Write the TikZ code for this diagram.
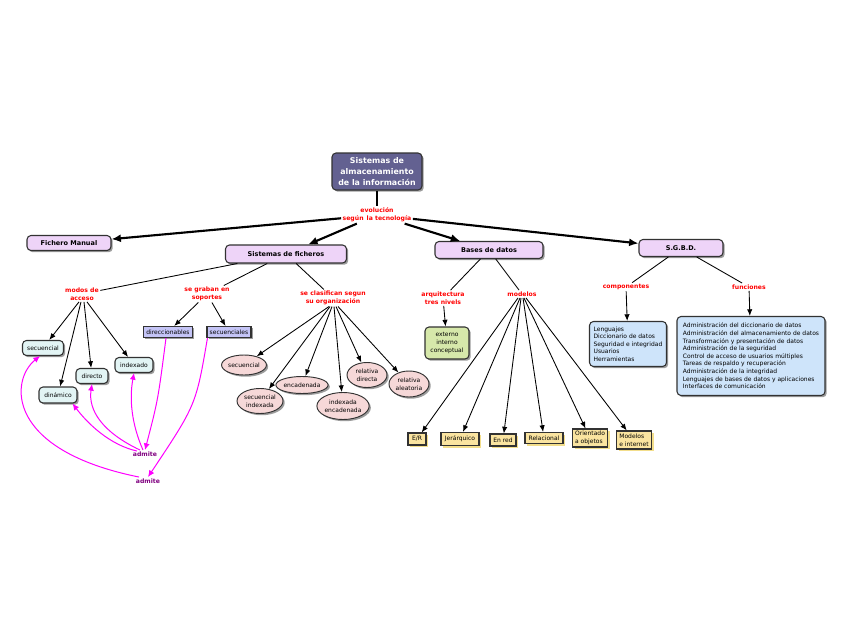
\documentclass[tikz,border=0pt]{standalone}
\usepackage{fontspec}
\setmainfont{DejaVu Sans}
\usetikzlibrary{shapes.geometric,arrows.meta,shadows,calc}
\definecolor{titlefill}{RGB}{99,97,145}
\definecolor{lav}{RGB}{238,212,248}
\definecolor{cyanl}{RGB}{226,244,244}
\definecolor{lavblue}{RGB}{196,196,246}
\definecolor{pinkl}{RGB}{246,216,216}
\definecolor{greenl}{RGB}{214,232,170}
\definecolor{yel}{RGB}{250,228,160}
\definecolor{yelsh}{RGB}{240,214,110}
\definecolor{bluel}{RGB}{206,228,250}
\definecolor{purp}{RGB}{128,0,128}
\definecolor{magc}{RGB}{255,0,255}
\definecolor{bord}{RGB}{50,50,50}
\tikzset{
  wh/.style 2 args={minimum width=#1*0.75pt, minimum height=#2*0.75pt},
  shad/.style={drop shadow={shadow xshift=1.3pt, shadow yshift=-1.3pt, fill=black!70, opacity=0.55}},
  box/.style={draw=bord, line width=0.8pt, rounded corners=3pt, shad, inner sep=1pt, align=center},
  topbox/.style={box, fill=lav, font=\bfseries\fontsize{4.9}{5.9}\selectfont},
  titlebox/.style={box, fill=titlefill, text=white, font=\bfseries\fontsize{5.9}{8.4}\selectfont},
  rl/.style={text=red, font=\bfseries\fontsize{4.6}{5.9}\selectfont, align=center, inner sep=1pt},
  acc/.style={box, fill=cyanl},
  rectbox/.style={draw=bord, line width=0.8pt, fill=lavblue, shad, inner sep=1pt},
  ell/.style={ellipse, draw=bord, line width=0.7pt, fill=pinkl, shad, inner sep=0pt, align=center},
  modbox/.style={draw=bord, line width=0.8pt, fill=yel, inner sep=1pt, align=left,
     drop shadow={shadow xshift=1.5pt, shadow yshift=-1.5pt, fill=yelsh, opacity=0.8}},
  info/.style={box, fill=bluel, align=left},
  adm/.style={text=purp, font=\bfseries\fontsize{4.6}{5.9}\selectfont, inner sep=1pt},
  big/.style={-{Latex[length=7pt,width=6pt]}, line width=1.6pt},
  arr/.style={-{Latex[length=5pt,width=4pt]}, line width=0.65pt},
  link/.style={line width=0.65pt},
  mag/.style={draw=magc, -{Latex[length=5pt,width=4.5pt]}, line width=0.75pt}
}
\begin{document}
\begin{tikzpicture}[x=0.75pt,y=-0.75pt, font=\fontsize{4.5}{5.7}\selectfont]
\path[fill=white, use as bounding box] (0,0) rectangle (848,638);

% top level
\node[titlebox, wh={90}{37}] (title) at (377,171.5) {Sistemas de\\almacenamiento\\de la información};
\node[rl] (evo) at (377,215) {evolución\\según\enspace la tecnología};
\node[topbox, wh={84}{15}] (fm) at (69,243) {Fichero Manual};
\node[topbox, wh={121}{18}] (sf) at (286,254) {Sistemas de ficheros};
\node[topbox, wh={108}{17}] (bd) at (489,250) {Bases de datos};
\node[topbox, wh={84}{17}] (sgbd) at (681,248) {S.G.B.D.};

\draw[line width=1.6pt] (title) -- (evo);
\draw[big] (evo) -- (fm);
\draw[big] (evo) -- (sf);
\draw[big] (evo) -- (bd);
\draw[big] (evo) -- (sgbd);

% second level labels
\node[rl] (modos) at (82,294) {modos de\\acceso};
\node[rl] (graban) at (207,294) {se graban en\\soportes};
\node[rl] (clas) at (333,298) {se clasifican segun\\su organización};
\node[rl] (arq) at (443,298) {arquitectura\\tres nivels};
\node[rl] (modelos) at (522,294) {modelos};
\node[rl] (comp) at (626,287) {componentes};
\node[rl] (func) at (749,287) {funciones};

\draw[link] (sf) -- (modos);
\draw[link] (sf) -- (graban);
\draw[link] (sf) -- (clas);
\draw[link] (bd) -- (arq);
\draw[link] (bd) -- (modelos);
\draw[link] (sgbd) -- (comp);
\draw[link] (sgbd) -- (func);

% modos de acceso
\node[acc, wh={41}{15}] (sec1) at (43,348) {secuencial};
\node[acc, wh={38}{16}] (din) at (58,395) {dinámico};
\node[acc, wh={32}{15}] (dir) at (92,376) {directo};
\node[acc, wh={38}{15}] (idx) at (134,365) {indexado};
\draw[arr] ($(modos.south)+(-3,0)$) -- (sec1);
\draw[arr] ($(modos.south)+(-1,0)$) -- (din);
\draw[arr] ($(modos.south)+(2,0)$) -- (dir);
\draw[arr] ($(modos.south)+(5,0)$) -- (idx);

% soportes
\node[rectbox, wh={49}{11}] (dirc) at (168,332) {direccionables};
\node[rectbox, wh={44}{11}] (secs) at (229,332) {secuenciales};
\draw[arr] (graban) -- (dirc);
\draw[arr] (graban) -- (secs);

\node[adm] (adm1) at (145,454) {admite};
\node[adm] (adm2) at (148,481) {admite};
\draw[mag] ($(dirc.south)+(-2,0)$) .. controls (158,400) .. (adm1.north);
\draw[mag] ($(secs.south west)+(1,0)$) .. controls (196,405) .. (adm2.north);
\draw[mag] ($(adm1.north)+(-2,0)$) .. controls (132,425) and (129,400) .. (idx.south);
\draw[mag] ($(adm1.north)+(-5,0)$) .. controls (102,432) and (88,410) .. (dir.south);
\draw[mag] ($(adm1.north)+(-8,1)$) .. controls (110,445) and (88,424) .. ($(din.south east)+(-5,0)$);
\draw[mag] ($(adm2.north)+(-9,0)$) .. controls (5,450) and (10,380) .. ($(sec1.south)+(-3,0)$);

% organizacion
\node[ell, wh={43}{20}] (e1) at (244,365) {secuencial};
\node[ell, wh={46}{25}] (e2) at (260,401) {secuencial\\indexada};
\node[ell, wh={50}{17}] (e3) at (302,385) {encadenada};
\node[ell, wh={46}{27}] (e4) at (343,406) {indexada\\encadenada};
\node[ell, wh={40}{25}] (e5) at (367,375) {relativa\\directa};
\node[ell, wh={40}{26}] (e6) at (409,384) {relativa\\aleatoria};
\foreach \e/\s in {e1/-4,e2/-3,e3/-1,e4/1,e5/3,e6/5}
  \draw[arr] ($(clas.south)+(\s,0)$) -- (\e);

% bases de datos
\node[box, fill=greenl, wh={44}{32}] (ext) at (447,343) {externo\\interno\\conceptual};
\draw[arr] (arq) -- (ext);
\node[modbox, wh={18}{12}] (m1) at (417,439) {E/R};
\node[modbox, wh={38}{13}] (m2) at (460,439) {Jerárquico};
\node[modbox, wh={26}{12}] (m3) at (503,440) {En red};
\node[modbox, wh={38}{11}] (m4) at (544,438) {Relacional};
\node[modbox, wh={35}{18}] (m5) at (590,438) {Orientado\\a objetos};
\node[modbox, wh={35}{18}] (m6) at (634,440) {Modelos\\e internet};
\foreach \m/\s in {m1/-4,m2/-2,m3/-1,m4/1,m5/2,m6/4}
  \draw[arr] ($(modelos.south)+(\s,0)$) -- (\m);

% SGBD
\node[info, wh={77}{45}] (compbox) at (628,344) {Lenguajes\\Diccionario de datos\\Seguridad e integridad\\Usuarios\\Herramientas};
\node[info, wh={148}{79}] (funcbox) at (751,356) {Administración del diccionario de datos\\Administración del almacenamiento de datos\\Transformación y presentación de datos\\Administración de la seguridad\\Control de acceso de usuarios múltiples\\Tareas de respaldo y recuperación\\Administración de la integridad\\Lenguajes de bases de datos y aplicaciones\\Interfaces de comunicación};
\draw[arr] (comp) -- (compbox);
\draw[arr] (func) -- (funcbox);
\end{tikzpicture}
\end{document}
